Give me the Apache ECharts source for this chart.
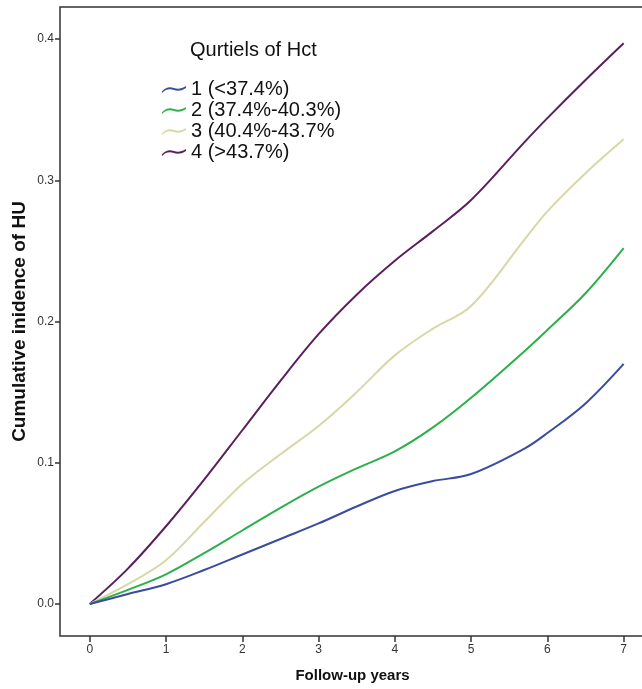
<!DOCTYPE html>
<html>
<head>
<meta charset="utf-8">
<script src="https://cdn.jsdelivr.net/npm/echarts@6/dist/echarts.min.js"></script>
<style>
html,body{margin:0;padding:0;background:#fff;}
#chart{width:642px;height:689px;}
</style>
</head>
<body>
<div id="chart"></div>
<script>
var years = [0, 0.5, 1, 1.5, 2, 2.5, 3, 3.5, 4, 4.5, 5, 5.7, 6, 6.5, 7];
var q1 = [0, 0.007, 0.014, 0.024, 0.035, 0.046, 0.057, 0.069, 0.080, 0.087, 0.092, 0.110, 0.121, 0.142, 0.170];
var q2 = [0, 0.010, 0.021, 0.036, 0.052, 0.068, 0.083, 0.096, 0.108, 0.125, 0.146, 0.179, 0.194, 0.220, 0.252];
var q3 = [0, 0.014, 0.031, 0.058, 0.085, 0.106, 0.126, 0.150, 0.176, 0.195, 0.211, 0.258, 0.278, 0.305, 0.329];
var q4 = [0, 0.025, 0.055, 0.088, 0.123, 0.158, 0.191, 0.219, 0.243, 0.264, 0.286, 0.327, 0.344, 0.371, 0.397];
var seriesNames = ['1 (<37.4%)', '2 (37.4%-40.3%)', '3 (40.4%-43.7%', '4 (>43.7%)'];
var seriesColors = ['#3b4c9e', '#2bb04c', '#d8d8a6', '#5b1f5d'];
var xTicks = [0, 1, 2, 3, 4, 5, 6, 7];
var yTicks = [0, 0.1, 0.2, 0.3, 0.4];

var allValues = [q1, q2, q3, q4];
function pairs(vals) { return years.map(function (t, i) { return [t, vals[i]]; }); }

var wave = 'path://M0,7.5 C5,2 10,1.5 15,3.5 C19,5 24,5 30,1 L30,3.4 C24,7.4 19,7.4 15,6 C10,4 5,4.5 0,9.5 Z';

var chart = echarts.init(document.getElementById('chart'), null, {renderer: 'canvas'});
chart.setOption({
  backgroundColor: '#ffffff',
  animation: false,
  textStyle: {fontFamily: 'Liberation Sans, Arial, sans-serif'},
  title: {
    text: 'Qurtiels of Hct',
    left: 190, top: 40, padding: 0,
    textStyle: {fontSize: 20, fontWeight: 'normal', color: '#111', fontFamily: 'Liberation Sans, Arial, sans-serif'}
  },
  legend: {
    orient: 'vertical',
    left: 162, top: 79, padding: 0,
    itemWidth: 24, itemHeight: 8,
    itemGap: 0,
    icon: wave,
    textStyle: {fontSize: 20, color: '#111', lineHeight: 21, fontFamily: 'Liberation Sans, Arial, sans-serif'},
    data: seriesNames
  },
  grid: {
    left: 60, top: 7, right: -3, bottom: 53,
    show: true, borderColor: '#333', borderWidth: 1.5,
    containLabel: false, outerBoundsMode: 'none'
  },
  xAxis: {
    type: 'value', min: -0.39, max: 7.28,
    name: 'Follow-up years', nameLocation: 'middle', nameGap: 32,
    nameTextStyle: {fontSize: 15, fontWeight: 'bold', color: '#111'},
    axisLine: {show: false, onZero: false},
    axisTick: {show: true, customValues: xTicks, length: 6, lineStyle: {color: '#333', width: 1.5}},
    axisLabel: {customValues: xTicks, fontSize: 12, color: '#333', margin: 8},
    splitLine: {show: false}
  },
  yAxis: {
    type: 'value', min: -0.0227, max: 0.4227,
    name: 'Cumulative inidence of HU', nameLocation: 'middle', nameGap: 31, nameRotate: 90,
    nameMoveOverlap: false,
    nameTextStyle: {fontSize: 19, fontWeight: 'bold', color: '#111'},
    axisLine: {show: false, onZero: false},
    axisTick: {show: true, customValues: yTicks, length: 5, lineStyle: {color: '#333', width: 1.5}},
    axisLabel: {customValues: yTicks, fontSize: 12, color: '#333', margin: 6,
      formatter: function (v) { return v.toFixed(1); }},
    splitLine: {show: false}
  },
  series: allValues.map(function (vals, i) {
    return {
      name: seriesNames[i], type: 'line', data: pairs(vals),
      smooth: 0.35, showSymbol: false,
      color: seriesColors[i],
      lineStyle: {color: seriesColors[i], width: 2},
      itemStyle: {color: seriesColors[i]},
      z: 2 + (3 - i)
    };
  })
});
</script>
</body>
</html>
